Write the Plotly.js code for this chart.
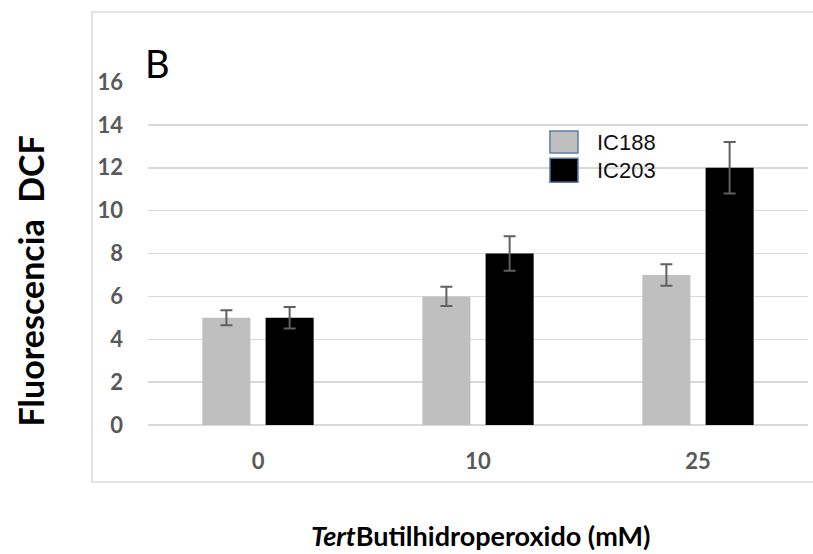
<!DOCTYPE html>
<html>
<head>
<meta charset="utf-8">
<script src="https://cdn.plot.ly/plotly-3.0.1.min.js"></script>
<style>html,body{margin:0;padding:0;background:#fff;}#chart{width:813px;height:554px;}</style>
</head>
<body>
<div id="chart"></div>
<script>
// ---- data ----
var categories = ["0", "10", "25"];
var seriesNames = ["IC188", "IC203"];
var ic188Values = [5, 6, 7];
var ic188Errors = [0.35, 0.45, 0.5];
var ic203Values = [5, 8, 12];
var ic203Errors = [0.5, 0.8, 1.2];
var seriesColors = ["#bfbfbf", "#000000"];
var yTickValues = [0, 2, 4, 6, 8, 10, 12, 14, 16];
var yTitle = "Fluorescencia  DCF";
var xTitle = "<i>Tert</i>Butilhidroperoxido (mM)";
var panelLabel = "B";

var errStyle = {type: "data", visible: true, color: "#606060", thickness: 2, width: 6};

var traces = [
  {type: "bar", name: seriesNames[0], x: categories, y: ic188Values,
   marker: {color: seriesColors[0]},
   error_y: Object.assign({array: ic188Errors}, errStyle), showlegend: false},
  {type: "bar", name: seriesNames[1], x: categories, y: ic203Values,
   marker: {color: seriesColors[1]},
   error_y: Object.assign({array: ic203Errors}, errStyle), showlegend: false}
];

// legend drawn as swatches + labels built from series names/colors
var legendShapes = [];
var legendAnns = [];
var legX0 = 0.609, legX1 = 0.6515, legTextX = 0.677;
var legRowsY = [[0.793, 0.857], [0.708, 0.778]];
for (var i = 0; i < seriesNames.length; i++) {
  legendShapes.push({type: "rect", xref: "paper", yref: "paper",
    x0: legX0, x1: legX1, y0: legRowsY[i][0], y1: legRowsY[i][1],
    fillcolor: seriesColors[i], line: {color: "#5b7ea8", width: 1.5}});
  legendAnns.push({xref: "paper", yref: "paper", x: legTextX,
    y: (legRowsY[i][0] + legRowsY[i][1]) / 2, xanchor: "left", yanchor: "middle",
    text: seriesNames[i], showarrow: false,
    font: {family: "Liberation Sans, Arial, sans-serif", size: 22, color: "#111"}});
}

var layout = {
  width: 813, height: 554,
  margin: {l: 148, r: 5, t: 82, b: 129},
  paper_bgcolor: "#fff", plot_bgcolor: "#fff",
  barmode: "group", bargap: 0.425, bargroupgap: 0.24,
  showlegend: false,
  xaxis: {type: "category", showgrid: false, zeroline: false, showline: false,
    ticks: "", ticklabelstandoff: 21,
    tickfont: {family: "Lato, sans-serif", size: 22, color: "#595959", weight: "bold"}},
  yaxis: {range: [0, 16], tickvals: yTickValues, showgrid: true, gridcolor: "#d9d9d9",
    gridwidth: 1.5, zeroline: true, zerolinecolor: "#d9d9d9", zerolinewidth: 1.5,
    showline: false, ticks: "", ticklabelstandoff: 24,
    tickfont: {family: "Lato, sans-serif", size: 22, color: "#595959", weight: "bold"}},
  shapes: [
    {type: "rect", xref: "paper", yref: "paper", x0: -0.0848, x1: 1.0106, y0: -0.166, y1: 1.204,
     line: {color: "#d9d9d9", width: 1.5}, fillcolor: "rgba(0,0,0,0)", layer: "below"}
  ].concat(legendShapes),
  annotations: [
    {xref: "paper", yref: "paper", x: -0.178, y: 0.42, textangle: -90,
     xanchor: "center", yanchor: "middle", showarrow: false, text: "<b>" + yTitle + "</b>",
     font: {family: "Lato, sans-serif", size: 34, color: "#000"}},
    {xref: "paper", yref: "paper", x: 0.504, y: -0.3207, xanchor: "center", yanchor: "middle",
     showarrow: false, text: "<b>" + xTitle + "</b>",
     font: {family: "Lato, sans-serif", size: 27, color: "#000"}},
    {xref: "paper", yref: "paper", x: -0.0065, y: 1.0546, xanchor: "left", yanchor: "middle",
     showarrow: false, text: panelLabel, bgcolor: "#fff", borderpad: 0,
     font: {family: "Lato, sans-serif", size: 38, color: "#000"}}
  ].concat(legendAnns)
};

Plotly.newPlot("chart", traces, layout, {displayModeBar: false, staticPlot: true});
</script>
</body>
</html>
